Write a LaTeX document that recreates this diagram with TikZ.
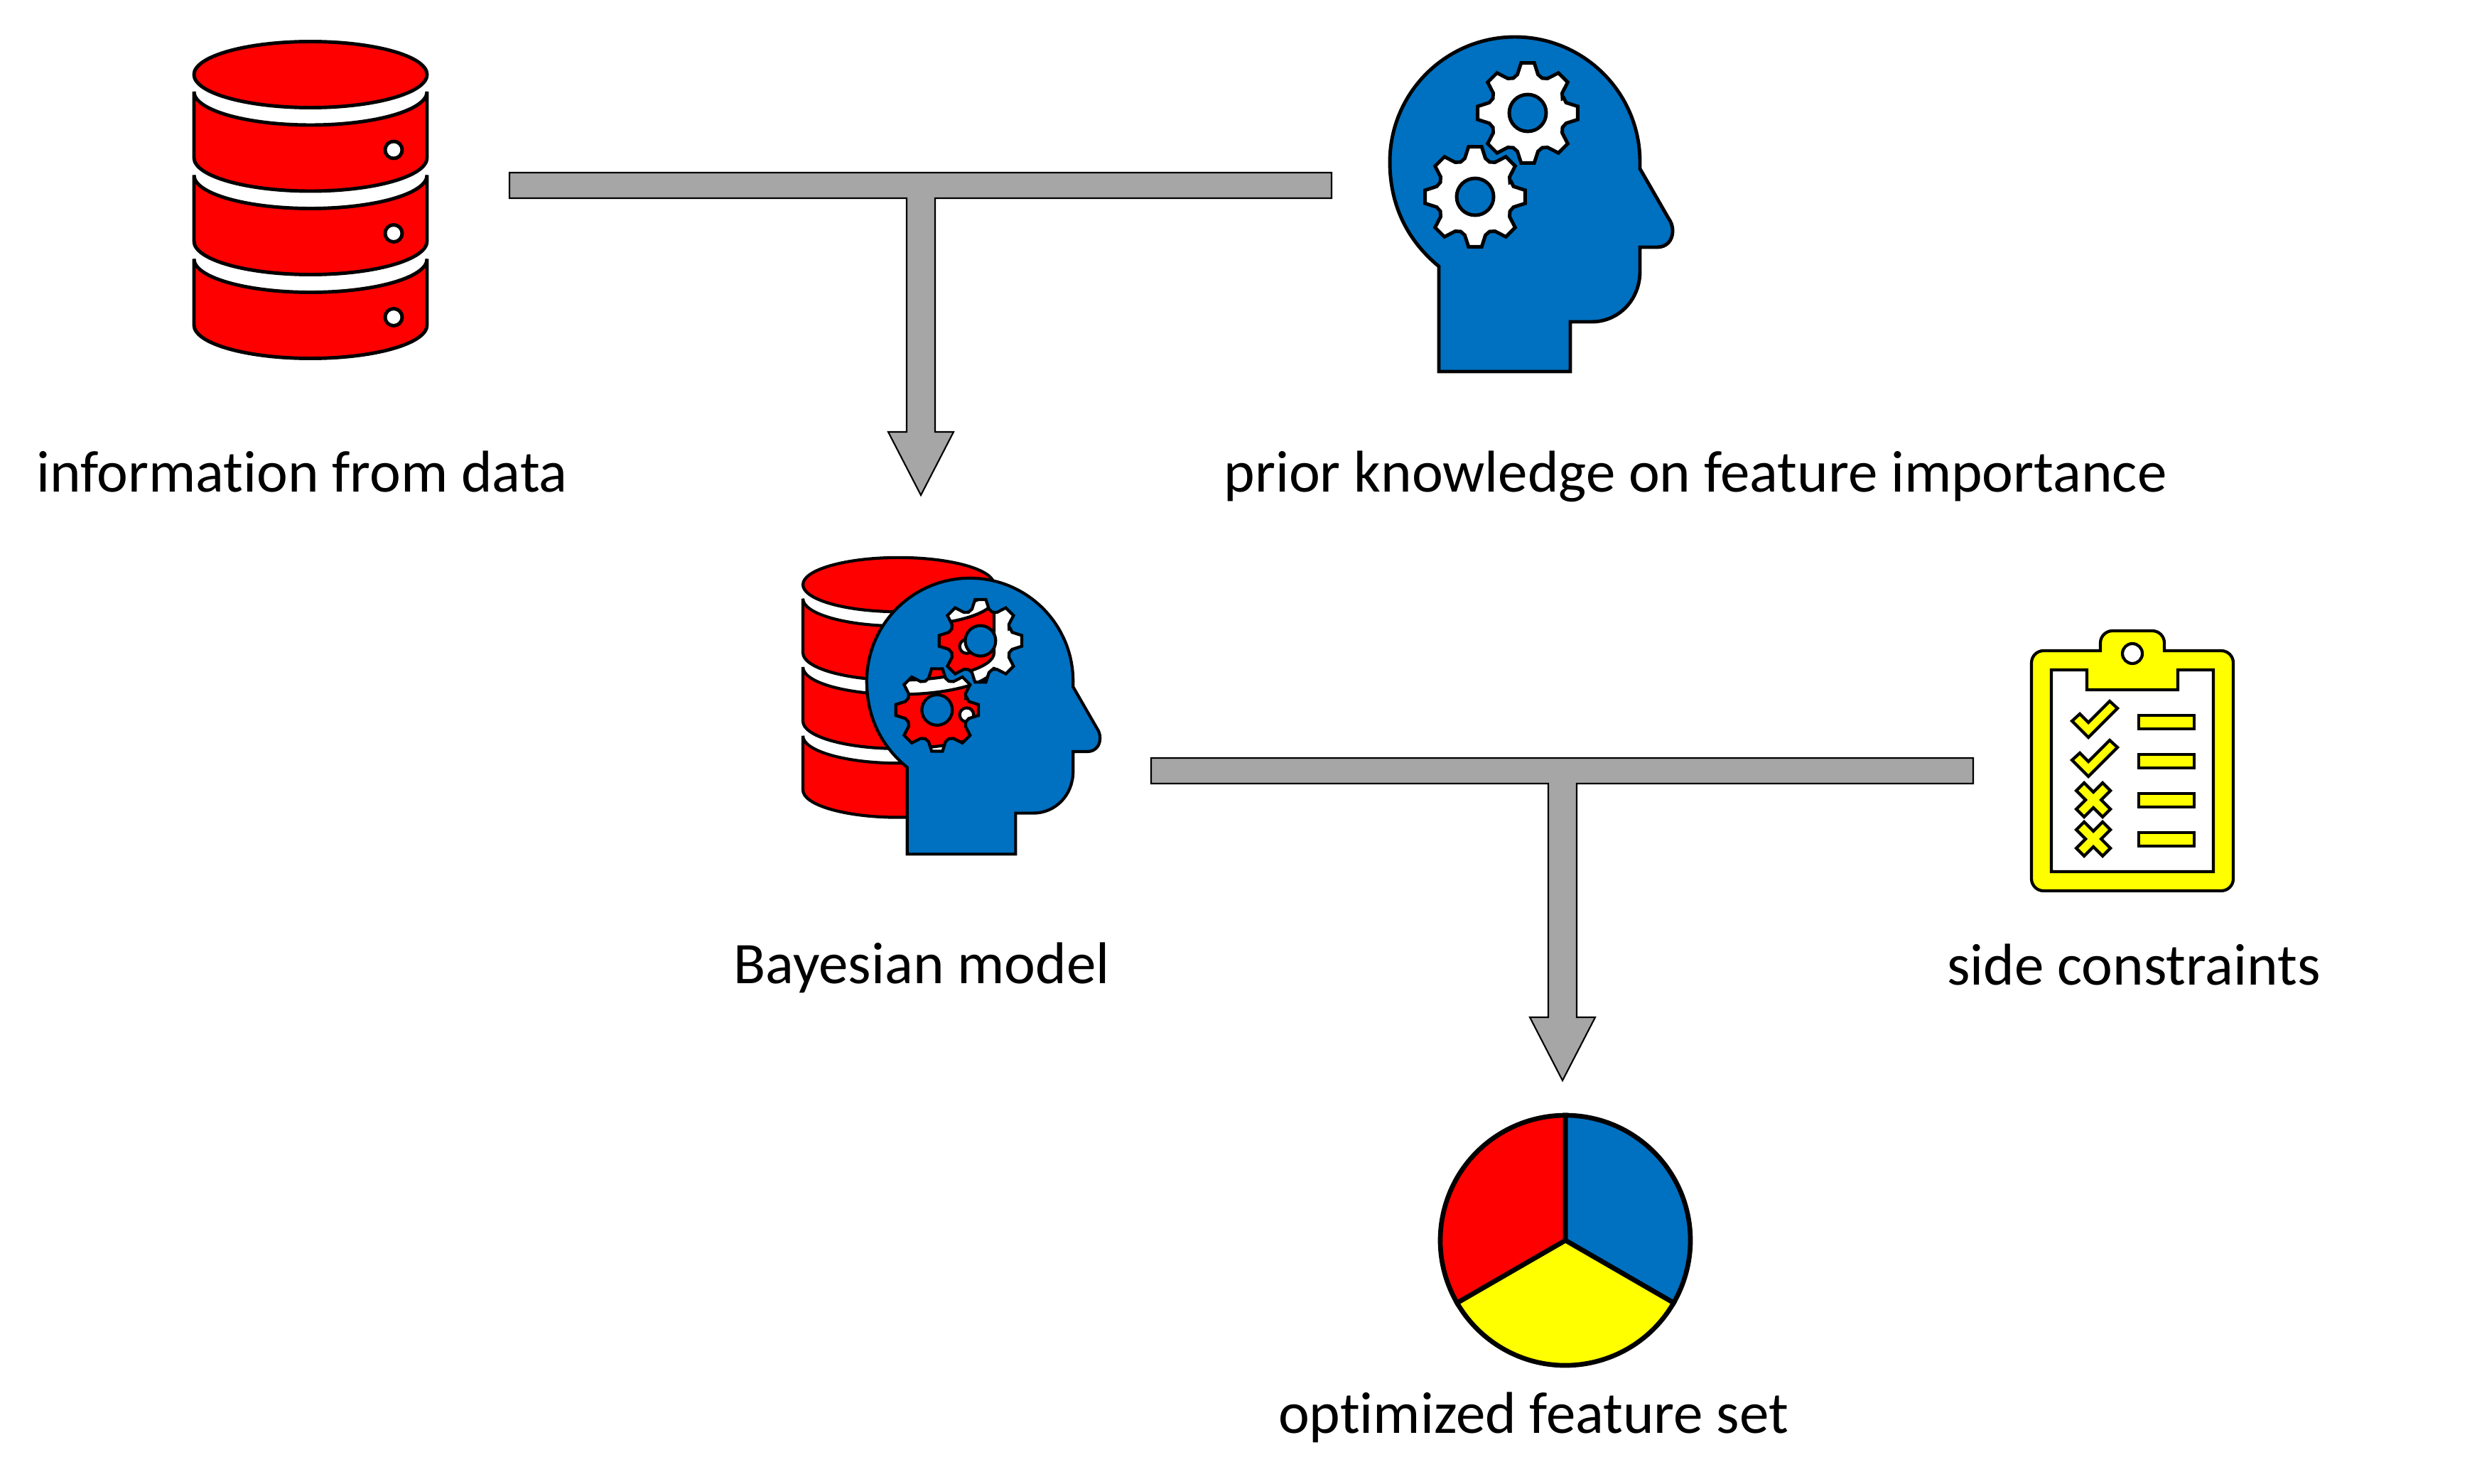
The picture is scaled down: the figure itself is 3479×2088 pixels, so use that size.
\documentclass[tikz,border=0pt]{standalone}
\usepackage{fontspec}
\setmainfont{Carlito}[Ligatures=NoCommon]
\usetikzlibrary{calc}
\definecolor{colorModel}{HTML}{0070C0}
\definecolor{colorData}{HTML}{FF0000}
\definecolor{colorSide}{HTML}{FFFF00}
\definecolor{colorConn}{HTML}{A6A6A6}
\newcommand{\gearpath}[2]{
  ([shift={(#1,#2)}]-22.5:55) foreach \a in {0,45,...,315} { -- ([shift={(#1,#2)}]\a-15:56) -- ([shift={(#1,#2)}]\a-7.5:71) -- ([shift={(#1,#2)}]\a+7.5:71) -- ([shift={(#1,#2)}]\a+15:56) -- ([shift={(#1,#2)}]\a+22.5:53)} -- cycle (#1,#2) circle[radius=26]
}
\newcommand{\teeconn}[3]{
  \draw[conn] ($(#1)+(0,-18)$) -- ($(#2)+(0,-18)$) -- ($(#2)+(0,18)$) -- ($(#3|-#1)+(20,18)$) -- ($(#3)+(20,-89)$) -- ($(#3)+(46,-89)$) -- (#3) -- ($(#3)+(-46,-89)$) -- ($(#3)+(-20,-89)$) -- ($(#3|-#1)+(-20,18)$) -- ($(#1)+(0,18)$) -- cycle;
}
\tikzset{
  conn/.style={draw=black, fill=colorConn, line width=.6pt, line join=miter},
  lbl/.style={anchor=base, inner sep=0pt, font=\fontsize{23.6}{28}\selectfont},
  database/.pic={
    \foreach \y in {24,141.5,259.5} {
      \path[draw=black, fill=colorData] (-164,\y) -- (-164,\y+93) arc[start angle=180, end angle=0, x radius=164, y radius=47] -- (164,\y) arc[start angle=0, end angle=180, x radius=164, y radius=47] -- cycle;
      \path[draw=black, fill=white] (117,\y+82) circle[radius=12];
    }
    \path[draw=black, fill=colorData] (0,0) ellipse[x radius=164, y radius=46.5];
  },
  headgears/.pic={
    \path[draw=black, fill=colorModel, even odd rule] (-107,295) -- (78,295) -- (78,225) -- (108,225) .. controls (146,225) and (176,194) .. (176,154) -- (176,120) -- (200,120) .. controls (214,120) and (222,110) .. (222,97) .. controls (222,90) and (220,85) .. (216,79) -- (176,9.5) -- (176,0) arc[start angle=0, end angle=-180, radius=176] .. controls (-176,60) and (-152,110) .. (-107,147) -- cycle \gearpath{18}{-69} \gearpath{-56}{49};
  }
}

\begin{document}
\begin{tikzpicture}[x=.01cm, y=-.01cm, line width=1.4pt, line join=miter]
\useasboundingbox (0,0) rectangle (3479,2088);
\pic at (437,105) {database};
\pic at (2132,228) {headgears};
\pic[scale=.82, line width=1.2pt] at (1264.5,823) {database};
\pic[scale=.825, line width=1.2pt] at (1365,959) {headgears};
\node[lbl] (lblData) at (425,692) {information from data};
\node[lbl] (lblPrior) at (2386,692) {prior knowledge on feature importance};
\node[lbl] (lblModel) at (1297,1384) {Bayesian model};
\node[lbl] (lblSide) at (3003,1386) {side constraints};
\node[lbl] (lblSet) at (2158,2017) {optimized feature set};
\coordinate (dataEnd) at (717,261);
\coordinate (priorEnd) at (1874,261);
\coordinate (modelTip) at (1296,697);
\coordinate (modelEnd) at (1620,1085);
\coordinate (sideEnd) at (2777,1085);
\coordinate (setTip) at (2199,1521);
\teeconn{dataEnd}{priorEnd}{modelTip}
\teeconn{modelEnd}{sideEnd}{setTip}
% clipboard
\path[draw=black, fill=colorSide, even odd rule, line width=1.2pt] (2876,916) -- (2956,916) -- (2956,905) arc[start angle=180, end angle=270, radius=17] -- (3029,888) arc[start angle=270, end angle=360, radius=17] -- (3046,916) -- (3126,916) arc[start angle=270, end angle=360, radius=17] -- (3143,1237) arc[start angle=0, end angle=90, radius=17] -- (2876,1254) arc[start angle=90, end angle=180, radius=17] -- (2859,933) arc[start angle=180, end angle=270, radius=17] -- cycle (2887,943) -- (2937,943) -- (2937,971) -- (3065,971) -- (3065,943) -- (3115,943) -- (3115,1227) -- (2887,1227) -- cycle;
\path[draw=black, fill=white, line width=1.2pt] (3001,920) circle[radius=14];
\foreach \y in {0,55,110,165} \path[draw=black, fill=colorSide, line width=1.2pt] (3010,1007+\y) rectangle (3088,1026+\y);
\foreach \y in {0,55} \path[draw=black, fill=colorSide, line width=1.2pt] (2916,1015+\y) -- (2927,1005+\y) -- (2939,1017+\y) -- (2969,987+\y) -- (2980,997+\y) -- (2939,1038+\y) -- cycle;
\foreach \y in {1126,1181} \path[draw=black, fill=colorSide, line width=1.2pt, shift={(2946,\y)}] (-24,-13) -- (-13,-24) -- (0,-11) -- (13,-24) -- (24,-13) -- (11,0) -- (24,13) -- (13,24) -- (0,11) -- (-13,24) -- (-24,13) -- (-11,0) -- cycle;
% pie
\coordinate (pie) at (2203,1746);
\path[draw=black, fill=colorModel, line width=1.9pt] (pie) -- ++(-90:176) arc[start angle=-90, end angle=30, radius=176] -- cycle;
\path[draw=black, fill=colorSide, line width=1.9pt] (pie) -- ++(30:176) arc[start angle=30, end angle=150, radius=176] -- cycle;
\path[draw=black, fill=colorData, line width=1.9pt] (pie) -- ++(150:176) arc[start angle=150, end angle=270, radius=176] -- cycle;
\end{tikzpicture}
\end{document}
